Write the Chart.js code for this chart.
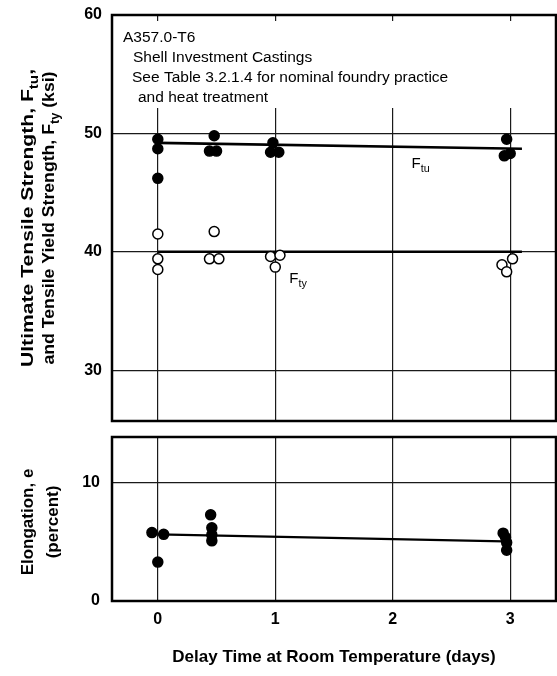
<!DOCTYPE html>
<html>
<head>
<meta charset="utf-8">
<script src="https://cdn.jsdelivr.net/npm/chart.js@4.4.0/dist/chart.umd.min.js"></script>
<style>
  html, body { margin: 0; padding: 0; background: #fff; }
  #wrap { position: relative; width: 557px; height: 676px; }
  #wrap canvas { position: absolute; left: 0; }
  #strength { top: 0; }
  #elong { top: 430px; }
</style>
</head>
<body>
<div id="wrap">
  <canvas id="strength" width="557" height="430"></canvas>
  <canvas id="elong" width="557" height="246"></canvas>
</div>
<script>
// Tensile strength (ksi) vs delay time at room temperature (days)
const ftuDays = [0, 0, 0, 0.48, 0.44, 0.50, 0.98, 0.96, 1.03, 2.97, 2.95, 3.00];
const ftuKsi  = [49.5, 48.7, 46.2, 49.8, 48.5, 48.5, 49.2, 48.4, 48.4, 49.5, 48.1, 48.3];
const ftyDays = [0, 0, 0, 0.48, 0.44, 0.52, 0.96, 1.04, 1.00, 3.02, 2.93, 2.97];
const ftyKsi  = [41.5, 39.4, 38.5, 41.7, 39.4, 39.4, 39.6, 39.7, 38.7, 39.4, 38.9, 38.3];

// fitted trend lines
const ftuFitDays = [0, 3.1];
const ftuFitKsi  = [49.2, 48.7];
const ftyFitDays = [0, 3.1];
const ftyFitKsi  = [40.0, 40.0];

// Elongation (percent)
const elongDays = [-0.05, 0.05, 0, 0.45, 0.46, 0.46, 0.46, 2.94, 2.96, 2.97, 2.97];
const elongPct  = [5.8, 5.65, 3.3, 7.3, 6.2, 5.6, 5.1, 5.75, 5.4, 4.95, 4.3];
const elongFitDays = [0, 2.95];
const elongFitPct  = [5.65, 5.05];

const dayTicks = [0, 1, 2, 3];
const strengthTicks = [30, 40, 50, 60];
const elongTicks = [0, 10];

const noteLines = [
  'A357.0-T6',
  'Shell Investment Castings',
  'See Table 3.2.1.4 for nominal foundry practice',
  'and heat treatment'
];

const FAMILY = '"Liberation Sans", Arial, sans-serif';
const font = (size, weight = 'normal') => `${weight} ${size}px ${FAMILY}`;
const toPoints = (xs, ys) => xs.map((x, i) => ({ x, y: ys[i] }));

// rich text: list of [text, isSubscript]
function runsWidth(ctx, runs, size, weight) {
  let w = 0;
  runs.forEach(([txt, sub]) => {
    ctx.font = font(sub ? size * 0.72 : size, weight);
    w += ctx.measureText(txt).width;
  });
  return w;
}

function drawRuns(ctx, runs, x, y, size, weight) {
  let cx = x;
  runs.forEach(([txt, sub]) => {
    ctx.font = font(sub ? size * 0.72 : size, weight);
    ctx.fillText(txt, cx, sub ? y + size * 0.3 : y);
    cx += ctx.measureText(txt).width;
  });
}

// vertical title, baseline at x, centred on cy, stretched to a given length
function drawVertical(ctx, runs, x, cy, size, length) {
  ctx.save();
  ctx.fillStyle = '#000';
  ctx.textBaseline = 'alphabetic';
  ctx.textAlign = 'left';
  ctx.translate(x, cy);
  ctx.rotate(-Math.PI / 2);
  const w = runsWidth(ctx, runs, size, 'bold');
  const sx = length ? length / w : 1;
  ctx.scale(sx, 1);
  drawRuns(ctx, runs, -w / 2, 0, size, 'bold');
  ctx.restore();
}

// keep the plot boxes where they are put, no auto padding from tick labels
function noPadding(s) {
  s.paddingTop = 0;
  s.paddingBottom = 0;
  s.paddingLeft = 0;
  s.paddingRight = 0;
}

const frame = {
  id: 'frame',
  afterDraw(chart) {
    const { ctx, chartArea: a } = chart;
    ctx.save();
    ctx.strokeStyle = '#000';
    ctx.lineWidth = 2.5;
    ctx.strokeRect(a.left, a.top, a.right - a.left, a.bottom - a.top);
    ctx.restore();
  }
};

const strengthNotes = {
  id: 'strengthNotes',
  beforeDatasetsDraw(chart) {
    const { ctx, chartArea: a } = chart;
    ctx.save();
    // the note block sits on a clear patch over the grid
    ctx.fillStyle = '#fff';
    ctx.fillRect(a.left + 2, a.top + 6, a.right - a.left - 4, 108 - a.top - 6);
    ctx.fillStyle = '#000';
    ctx.textBaseline = 'alphabetic';
    ctx.font = font(15.5);
    const xs = [123, 133, 132, 138];
    const ys = [42, 62, 82, 102];
    noteLines.forEach((t, i) => ctx.fillText(t, xs[i], ys[i]));
    ctx.restore();
  },
  afterDatasetsDraw(chart) {
    const { ctx, scales } = chart;
    ctx.save();
    ctx.fillStyle = '#000';
    ctx.textBaseline = 'alphabetic';
    drawRuns(ctx, [['F', false], ['tu', true]], scales.x.getPixelForValue(2.16), scales.y.getPixelForValue(47.1), 15, 'normal');
    drawRuns(ctx, [['F', false], ['ty', true]], scales.x.getPixelForValue(1.12), scales.y.getPixelForValue(37.4), 15, 'normal');
    // y axis title
    const cy = (chart.chartArea.top + chart.chartArea.bottom) / 2;
    drawVertical(ctx, [['Ultimate Tensile Strength, F', false], ['tu', true], [',', false]], 33, cy, 17, 298);
    drawVertical(ctx, [['and Tensile Yield Strength, F', false], ['ty', true], [' (ksi)', false]], 54, cy, 17, 293);
    ctx.restore();
  }
};

const elongTitle = {
  id: 'elongTitle',
  afterDraw(chart) {
    const { ctx, chartArea: a } = chart;
    const cy = (a.top + a.bottom) / 2 + 3;
    drawVertical(ctx, [['Elongation, e', false]], 33, cy, 17);
    drawVertical(ctx, [['(percent)', false]], 58, cy, 17);
  }
};

const gridStyle = { color: '#1a1a1a', lineWidth: 1.2, drawTicks: false };
const tickFont = { family: FAMILY, size: 16, weight: 'bold' };

const scatterSet = (data, fill) => ({
  type: 'scatter',
  data,
  showLine: false,
  pointRadius: 5,
  pointHoverRadius: 5,
  pointBackgroundColor: fill,
  pointBorderColor: '#000',
  pointBorderWidth: 1.5
});

const fitSet = (data, width) => ({
  type: 'line',
  data,
  borderColor: '#000',
  borderWidth: width,
  pointRadius: 0,
  tension: 0,
  fill: false
});

const dayAxis = (showLabels) => ({
  type: 'linear',
  min: -0.39,
  max: 3.39,
  grid: gridStyle,
  border: { display: false },
  afterBuildTicks: s => { s.ticks = dayTicks.map(v => ({ value: v })); },
  ticks: { display: showLabels, color: '#000', font: tickFont, padding: 9 },
  title: {
    display: showLabels,
    text: 'Delay Time at Room Temperature (days)',
    color: '#000',
    font: { family: FAMILY, size: 17, weight: 'bold' },
    padding: { top: 0, bottom: 8 }
  },
  afterFit: s => { s.height = showLabels ? 75 : 0; noPadding(s); }
});

const valueAxis = (min, max, ticks, pad) => ({
  min,
  max,
  grid: gridStyle,
  border: { display: false },
  afterBuildTicks: s => { s.ticks = ticks.map(v => ({ value: v })); },
  ticks: { color: '#000', font: tickFont, padding: pad },
  afterFit: s => { s.width = 112; noPadding(s); }
});

new Chart(document.getElementById('strength'), {
  type: 'scatter',
  data: {
    datasets: [
      scatterSet(toPoints(ftuDays, ftuKsi), '#000'),
      scatterSet(toPoints(ftyDays, ftyKsi), '#fff'),
      fitSet(toPoints(ftuFitDays, ftuFitKsi), 2.6),
      fitSet(toPoints(ftyFitDays, ftyFitKsi), 2.4)
    ]
  },
  options: {
    responsive: false,
    animation: false,
    events: [],
    layout: { autoPadding: false, padding: { top: 15, right: 1, bottom: 9, left: 0 } },
    plugins: { legend: { display: false }, tooltip: { enabled: false } },
    scales: {
      x: dayAxis(false),
      y: valueAxis(25.7, 60, strengthTicks, 10)
    }
  },
  plugins: [strengthNotes, frame]
});

new Chart(document.getElementById('elong'), {
  type: 'scatter',
  data: {
    datasets: [
      scatterSet(toPoints(elongDays, elongPct), '#000'),
      fitSet(toPoints(elongFitDays, elongFitPct), 2.2)
    ]
  },
  options: {
    responsive: false,
    animation: false,
    events: [],
    layout: { autoPadding: false, padding: { top: 7, right: 1, bottom: 0, left: 0 } },
    plugins: { legend: { display: false }, tooltip: { enabled: false } },
    scales: {
      x: dayAxis(true),
      y: valueAxis(0, 13.9, elongTicks, 12)
    }
  },
  plugins: [elongTitle, frame]
});
</script>
</body>
</html>
